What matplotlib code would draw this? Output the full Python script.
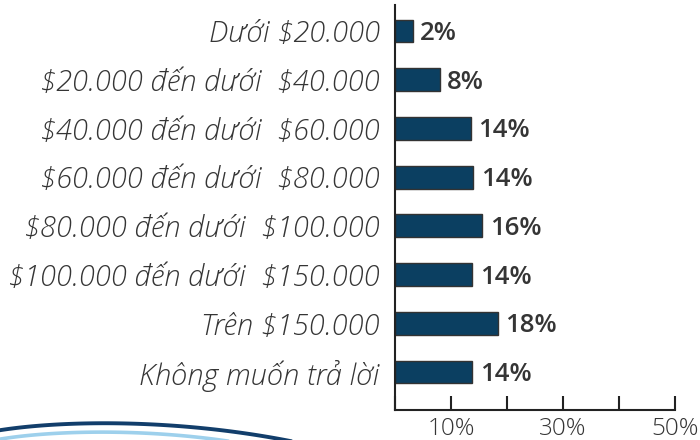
import matplotlib.pyplot as plt
import numpy as np
from matplotlib.lines import Line2D

# dữ liệu
categories = ['Dưới $20.000', '$20.000 đến dưới  $40.000', '$40.000 đến dưới  $60.000',
              '$60.000 đến dưới  $80.000', '$80.000 đến dưới  $100.000',
              '$100.000 đến dưới  $150.000', 'Trên $150.000', 'Không muốn trả lời']
values = [3.2, 8.0, 13.5, 14.0, 15.6, 13.8, 18.4, 13.8]
value_labels = ['2%', '8%', '14%', '14%', '16%', '14%', '18%', '14%']
xticks = [0, 10, 20, 30, 40, 50]
xtick_labels = ['', '10%', '', '30%', '', '50%']

bar_color = '#0b3f61'
text_color = '#353535'

plt.rcParams['font.family'] = ['Open Sans', 'DejaVu Sans']
plt.rcParams['text.parse_math'] = False

fig = plt.figure(figsize=(7, 4.4), dpi=100)
ax = fig.add_axes([395 / 700, 1 - 410 / 440, 280 / 700, 405 / 440])

y = np.arange(len(categories))
ax.barh(y, values, height=0.47, color=bar_color, edgecolor='#333333', linewidth=1)
for yi, v, lab in zip(y, values, value_labels):
    ax.text(v + 1.3, yi + 0.05, lab, va='center', ha='left', fontsize=18.5,
            fontweight='semibold', color=text_color)

ax.set_ylim(7.78, -0.534)
ax.set_xlim(0, 50)
ax.set_yticks(y)
ax.set_yticklabels(categories, fontsize=21, style='italic', fontweight='light',
                   color=text_color)
ax.tick_params(axis='y', length=0, pad=11)
ax.set_xticks(xticks)
ax.set_xticklabels(xtick_labels, fontsize=17.5, fontweight='light', color=text_color)
ax.tick_params(axis='x', direction='in', length=10, width=1.5, color='#222222', pad=5)

for s in ['top', 'right']:
    ax.spines[s].set_visible(False)
for s in ['left', 'bottom']:
    ax.spines[s].set_linewidth(1.5)
    ax.spines[s].set_color('#222222')


# đường trang trí phía dưới bên trái
def bezier(p0, p1, p2, p3, n=100):
    t = np.linspace(0, 1, n)[:, None]
    pts = ((1 - t) ** 3 * np.array(p0) + 3 * (1 - t) ** 2 * t * np.array(p1)
           + 3 * (1 - t) * t ** 2 * np.array(p2) + t ** 3 * np.array(p3))
    return pts[:, 0] / 700, 1 - pts[:, 1] / 440


xs, ys = bezier((-5, 431), (60, 420), (180, 418), (300, 443))
fig.add_artist(Line2D(xs, ys, color='#123e6b', lw=2.8, transform=fig.transFigure))
xs, ys = bezier((-5, 440), (50, 430), (150, 428), (240, 443))
fig.add_artist(Line2D(xs, ys, color='#9dd0ec', lw=2.6, transform=fig.transFigure))

fig.savefig('out.png', dpi=100)
